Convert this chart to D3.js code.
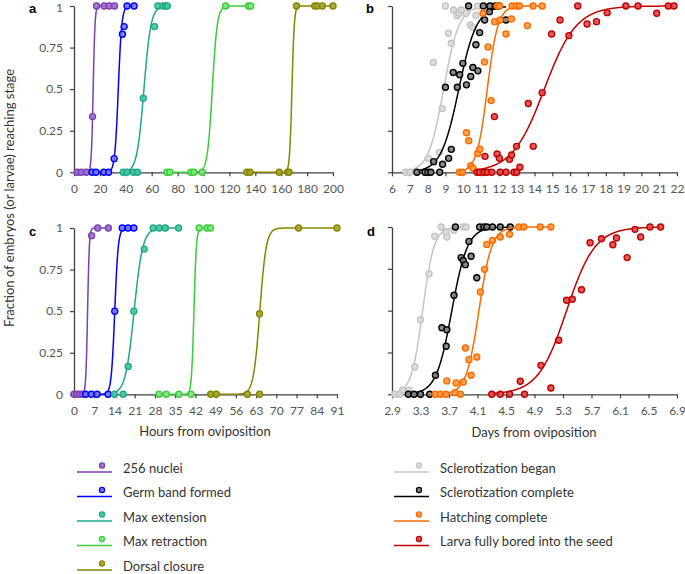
<!DOCTYPE html>
<html><head><meta charset="utf-8">
<script src="https://cdn.jsdelivr.net/npm/d3@7"></script>
<style>
html,body{margin:0;padding:0;background:#fff;}
svg{display:block;font-family:Lato,"Open Sans",sans-serif;}
</style></head>
<body>
<svg id="chart" width="685" height="574"></svg>
<script>
// ---------- data ----------
const seriesNamesLeft = ["256 nuclei","Germ band formed","Max extension","Max retraction","Dorsal closure"];
const seriesNamesRight = ["Sclerotization began","Sclerotization complete","Hatching complete","Larva fully bored into the seed"];

const ticksA = [0,20,40,60,80,100,120,140,160,180,200];
const ticksC = [0,7,14,21,28,35,42,49,56,63,70,77,84,91];
const ticksB = [6,7,8,9,10,11,12,13,14,15,16,17,18,19,20,21,22];
const ticksD = [2.9,3.3,3.7,4.1,4.5,4.9,5.3,5.7,6.1,6.5,6.9];
const ticksY = [0,0.25,0.5,0.75,1];

// panel a (hours)
const a_nuclei = [[2.5,0],[5.5,0],[9.5,0],[14.3,0.335],[17.4,1],[23.3,1],[27.1,1],[31.2,1]];
const a_germ = [[14,0],[17,0],[23,0],[26.7,0],[31,0.082],[37.4,0.83],[38.7,0.876],[41,1],[46.4,1]];
const a_ext = [[38,0],[40.8,0],[46,0],[49,0],[53.5,0.445],[62.2,0.876],[64.8,1],[68.6,1],[70.7,1],[72,1]];
const a_retr = [[71.7,0],[74,0],[90.3,0],[92.5,0],[99,0],[117,1],[134.7,1],[136.5,1]];
const a_dorsal = [[133.5,0],[136,0],[158.5,0],[165,0],[166,0],[171.8,1],[185.9,1],[188,1],[191.8,1],[200,1]];
const a_fitMid = [14.8,34.2,54,106.8,168.3];
const a_fitScale = [0.7,1.35,2.7,1.9,0.9];

// panel c (hours)
const c_nuclei = [[0,0],[1,0],[2,0],[3,0],[6.1,0.954],[8.2,1],[11.9,1]];
const c_germ = [[4,0],[6,0],[8,0],[11.8,0],[14.1,0.5],[16.7,1],[18.7,1],[20.7,1]];
const c_ext = [[14,0],[17,0],[18.75,0.167],[20.7,0.5],[24.3,0.873],[27.4,1],[29.5,1],[31.6,1],[36.2,1]];
const c_retr = [[29.4,0],[31.9,0],[36.3,0],[40.5,0],[43.3,1],[46,1],[47.2,1]];
const c_dorsal = [[47.3,0],[49.2,0],[60,0],[64.2,0],[64.2,0.484],[77.7,1],[91,1]];
const c_fitMid = [4.7,14.1,20.8,41.5,64.3];
const c_fitScale = [0.3,0.6,1.5,0.42,1.1];

// panel b (days)
const b_sclBegan = [[6.77,0],[7.0,0],[8.04,0.084],[8.67,0.12],[8.32,0.66],[8.82,0.383],[9.17,0.836],[9.33,0.776],[9.0,1],[9.45,0.976],[9.65,0.942],[9.76,0.956],[9.89,0.976],[10.17,0.956],[10.4,0.886],[10.55,0.87],[10.71,0.944],[10.81,1]];
const b_sclComplete = [[7.4,0],[7.85,0],[8.02,0],[8.18,0],[8.68,0],[8.34,0.064],[8.84,0.048],[9.18,0.084],[9.33,0.138],[9.0,0.511],[9.44,0.6],[9.67,0.511],[9.8,0.587],[9.98,0.655],[10.18,0.526],[10.42,0.576],[10.54,0.63],[10.82,0.61],[10.71,0.767],[10.92,0.84],[11.2,0.916],[10.3,1],[11.13,1],[11.47,0.966],[11.5,1],[11.8,1],[12.0,1],[12.4,0.916]];
const b_hatch = [[9.78,0],[9.96,0],[10.18,0.238],[10.31,0.19],[10.42,0.04],[10.55,0.024],[10.81,0.113],[10.93,0.139],[11.11,0.956],[11.19,0.664],[11.39,0.754],[11.57,0.431],[11.76,0.906],[11.92,1],[12.04,1],[12.07,0.916],[12.4,0.832],[12.7,0.922],[12.74,1],[12.98,1],[13.15,1],[13.6,0.882],[13.92,1],[14.43,1]];
const b_bored = [[10.78,0],[10.92,0],[11.17,0],[11.35,0],[11.6,0],[12.07,0],[12.4,0],[12.85,0],[13.0,0],[13.18,0.03],[11.22,0.096],[11.9,0.11],[12.03,0.084],[11.75,0.335],[12.6,0.078],[12.71,0.104],[12.99,0.156],[13.65,0.414],[13.93,0.156],[14.43,0.479],[14.96,0.832],[15.43,0.916],[15.93,0.822],[16.43,1],[16.95,0.892],[17.48,0.906],[18.08,0.96],[19.13,1],[19.81,1],[20.86,0.956],[21.51,1],[21.83,1]];
const b_fitMid = [8.9,9.75,11.35,14.55];
const b_fitScale = [0.43,0.5,0.3,0.9];

// panel d (days)
const d_sclBegan = [[2.94,0],[3.01,0],[3.05,0.024],[3.14,0.024],[3.22,0.163],[3.3,0.446],[3.42,0.72],[3.5,0.944],[3.59,1],[3.66,0.97],[3.67,0.94],[3.77,0.98],[3.9,1],[3.94,1]];
const d_sclComplete = [[3.13,0],[3.21,0],[3.3,0],[3.43,0],[3.51,0.114],[3.66,0.287],[3.6,0.398],[3.67,0.386],[3.77,0.592],[3.87,0.817],[3.9,0.8],[3.93,0.775],[3.98,0.914],[4.01,0.825],[4.09,0.697],[3.79,1],[4.13,1],[4.19,1],[4.23,1],[4.31,1],[4.42,1],[4.56,1]];
const d_hatch = [[3.51,0],[3.58,0],[3.66,0],[3.78,0.01],[3.86,0],[3.67,0.08],[3.8,0.068],[3.9,0.074],[3.93,0.277],[3.98,0.207],[4.01,0.114],[4.09,0.223],[4.14,0.612],[4.2,0.747],[4.23,0.896],[4.31,0.92],[4.42,0.94],[4.55,0.956],[4.68,1],[4.75,1],[4.98,1],[5.13,1]];
const d_bored = [[4.3,0],[4.42,0],[4.55,0],[4.76,0],[4.7,0.078],[5.13,0.038],[4.99,0.173],[5.24,0.323],[5.35,0.562],[5.43,0.568],[5.56,0.625],[5.68,0.906],[5.84,0.93],[6.0,0.894],[6.05,0.934],[6.2,0.817],[6.31,0.986],[6.39,0.94],[6.52,1],[6.67,1]];
const d_fitMid = [3.33,3.74,4.12,5.35];
const d_fitScale = [0.08,0.11,0.09,0.2];

// ---------- styles ----------
const leftStyles = [
  {line:"#7B3FB0", stroke:"#7B3FB0", fill:"#A070D0"},
  {line:"#0000FF", stroke:"#0000FF", fill:"#7878FF"},
  {line:"#1FAA85", stroke:"#1FAA85", fill:"#45C8A2"},
  {line:"#3ACC3A", stroke:"#3ACC3A", fill:"#85E585"},
  {line:"#858500", stroke:"#858500", fill:"#A5A530"}
];
const rightStyles = [
  {line:"#C4C4C4", stroke:"#C4C4C4", fill:"#DCDCDC"},
  {line:"#000000", stroke:"#000000", fill:"#808080"},
  {line:"#FF6A00", stroke:"#FF6A00", fill:"#FF9A40"},
  {line:"#C00000", stroke:"#C00000", fill:"#E04A4A"}
];

const svg = d3.select("#chart");
const axisCol = "#404040", labelCol = "#555";

function drawPanel(cfg){
  const x = d3.scaleLinear().domain(cfg.xDomain).range(cfg.xRange);
  const y = d3.scaleLinear().domain([0,1]).range(cfg.yRange);
  const g = svg.append("g");
  const xa = g.append("g").attr("transform",`translate(0,${cfg.yRange[0]})`)
    .call(d3.axisBottom(x).tickValues(cfg.xTicks).tickSize(4).tickSizeOuter(0).tickPadding(8)
      .tickFormat(d=>String(d)));
  const ya = g.append("g").attr("transform",`translate(${cfg.xRange[0]},0)`)
    .call(d3.axisLeft(y).tickValues(ticksY).tickSize(4).tickSizeOuter(0).tickPadding(7)
      .tickFormat(cfg.yLabels ? (d=>String(d)) : (()=> "")));
  [xa,ya].forEach(a=>{
    a.select(".domain").attr("stroke",axisCol).attr("stroke-width",1.3);
    a.selectAll(".tick line").attr("stroke",axisCol).attr("stroke-width",1.2);
    a.selectAll("text").attr("fill",labelCol).style("font-size","12px").style("font-family","Lato");
  });
  if (cfg.topLabelDy) ya.selectAll(".tick").filter(d=>d===1).select("text").attr("dy",cfg.topLabelDy);
  const line = d3.line().x(d=>x(d[0])).y(d=>y(d[1])).curve(d3.curveLinear);
  cfg.series.forEach((s,i)=>{
    const st = cfg.styles[i];
    const ext = d3.extent(s,d=>d[0]);
    const mid = cfg.mid[i], sc = cfg.scale[i];
    const xs = d3.range(0,401).map(k=>ext[0]+(ext[1]-ext[0])*k/400);
    const curve = xs.map(v=>[v, 1/(1+Math.exp(-(v-mid)/sc))]);
    g.append("path").datum(curve).attr("d",line)
      .attr("fill","none").attr("stroke",st.line).attr("stroke-width",1.5);
    g.append("g").selectAll("circle").data(s).join("circle")
      .attr("cx",d=>x(d[0])).attr("cy",d=>y(d[1])).attr("r",3)
      .attr("fill",st.fill).attr("fill-opacity",0.9)
      .attr("stroke",st.stroke).attr("stroke-width",1.4);
  });
  svg.append("text").attr("x",cfg.letterX).attr("y",cfg.letterY)
    .attr("font-weight","bold").attr("font-size",13).attr("fill","#000")
    .style("font-family","Arial, 'Liberation Sans', sans-serif")
    .text(cfg.letter);
}

drawPanel({xDomain:[0,200], xRange:[74,333], yRange:[172.3,6], xTicks:ticksA, yLabels:true, topLabelDy:"0.45em",
  series:[a_nuclei,a_germ,a_ext,a_retr,a_dorsal], styles:leftStyles, mid:a_fitMid, scale:a_fitScale,
  letter:"a", letterX:29, letterY:13});
drawPanel({xDomain:[6,22], xRange:[392,677], yRange:[172.3,6], xTicks:ticksB, yLabels:false,
  series:[b_sclBegan,b_sclComplete,b_hatch,b_bored], styles:rightStyles, mid:b_fitMid, scale:b_fitScale,
  letter:"b", letterX:366, letterY:13});
drawPanel({xDomain:[0,91], xRange:[74,337], yRange:[394.3,228], xTicks:ticksC, yLabels:true,
  series:[c_nuclei,c_germ,c_ext,c_retr,c_dorsal], styles:leftStyles, mid:c_fitMid, scale:c_fitScale,
  letter:"c", letterX:29, letterY:236});
drawPanel({xDomain:[2.9,6.9], xRange:[392,677], yRange:[394.3,227], xTicks:ticksD, yLabels:false,
  series:[d_sclBegan,d_sclComplete,d_hatch,d_bored], styles:rightStyles, mid:d_fitMid, scale:d_fitScale,
  letter:"d", letterX:367, letterY:236});

svg.append("text").attr("x",205).attr("y",436).attr("text-anchor","middle")
  .attr("font-size",13).attr("fill","#333").style("font-family","Lato").text("Hours from oviposition");
svg.append("text").attr("x",534).attr("y",437).attr("text-anchor","middle")
  .attr("font-size",13).attr("fill","#333").style("font-family","Lato").text("Days from oviposition");
svg.append("text").attr("transform","translate(14,198) rotate(-90)").attr("text-anchor","middle")
  .attr("font-size",13).attr("fill","#333").style("font-family","Lato")
  .text("Fraction of embryos (or larvae) reaching stage");

function legendCol(names, styles, x0, y0, dy){
  names.forEach((n,i)=>{
    const yc = y0 + i*dy;
    const st = styles[i];
    svg.append("line").attr("x1",x0).attr("x2",x0+35).attr("y1",yc+4).attr("y2",yc+4)
      .attr("stroke",st.line).attr("stroke-width",1.6);
    svg.append("circle").attr("cx",x0+25).attr("cy",yc-2.5).attr("r",2.6)
      .attr("fill",st.fill).attr("stroke",st.stroke).attr("stroke-width",1.2);
    svg.append("text").attr("x",x0+46).attr("y",yc).attr("dy","0.35em")
      .attr("font-size",13).attr("fill","#333").style("font-family","Lato").text(n);
  });
}
legendCol(seriesNamesLeft, leftStyles, 77, 468, 24.5);
legendCol(seriesNamesRight, rightStyles, 394, 468, 24.5);
</script>
</body></html>
